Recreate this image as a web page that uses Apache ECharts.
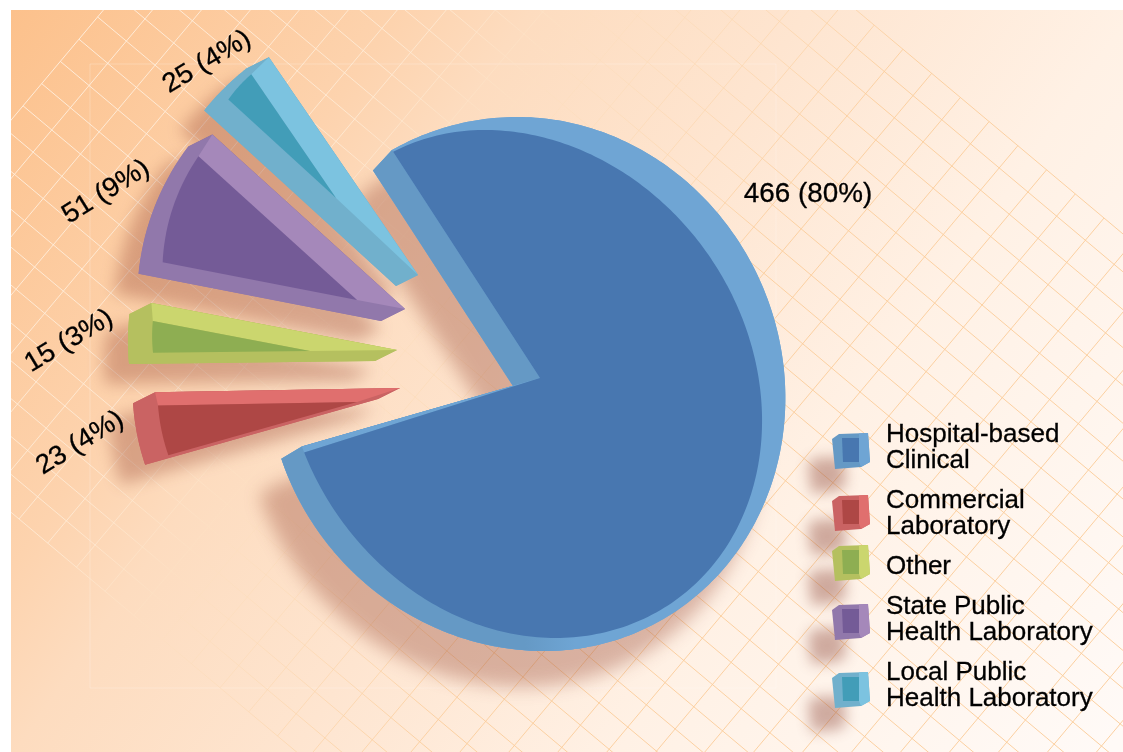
<!DOCTYPE html>
<html>
<head>
<meta charset="utf-8">
<title>Laboratory types</title>
<script src="https://cdn.jsdelivr.net/npm/echarts@6/dist/echarts.min.js"></script>
<style>
html, body { margin: 0; padding: 0; background: #fff; }
#main { width: 1123px; height: 752px; }
</style>
</head>
<body>
<div id="main"></div>
<script>
// data, in legend order
var sliceNames = ['Hospital-based Clinical', 'Commercial Laboratory', 'Other', 'State Public Health Laboratory', 'Local Public Health Laboratory'];
var sliceValues = [466, 23, 15, 51, 25];
var legendLabels = ['Hospital-based\nClinical', 'Commercial\nLaboratory', 'Other', 'State Public\nHealth Laboratory', 'Local Public\nHealth Laboratory'];

// [top wall, side wall, inner face]
var sliceColors = [
    ['#6fa5d4', '#6599c5', '#4877b0'],
    ['#e06f6e', '#ca6363', '#ae4745'],
    ['#cbd66e', '#b5c05f', '#8eae52'],
    ['#a588ba', '#9178ab', '#745b97'],
    ['#7cc3e0', '#71b0cc', '#429db8']
];

// where each exploded wedge sits in the drawing, not data
// nudge: perspective correction of the two edges, in degrees
var wedgeLayout = {
    1: {front: [378, 399], lift: [22, -11], r: [245, 242], back: [357, 402], backR: [199, 196], nudge: [1.5, 2], label: [80, 443, 32]},
    2: {front: [375, 361], lift: [22, -11], r: [250, 246], back: [310, 351], backR: [160, 157], nudge: [-1, 1.2], label: [69, 341, 31]},
    3: {front: [381, 321], lift: [24, -12], r: [260, 247], back: [357, 300], backR: [214, 198], nudge: [-0.7, -1.2], label: [106, 192, 32]},
    4: {front: [396, 286], lift: [22, -11], r: [264, 260], back: [336, 198], backR: [150, 146], nudge: [1.4, -1], label: [207, 62, 31]}
};
var pieStart = 33; // degrees counter clockwise from north
var swatchTops = [433, 495, 545, 604, 672];

var total = sliceValues.reduce(function (a, b) { return a + b; }, 0);
// slices run counter clockwise from the local lab back round to the hospital one
var sliceAngles = {};
var cursor = pieStart;
for (var k = sliceValues.length - 1; k >= 0; k--) {
    var sweep = sliceValues[k] / total * 360;
    sliceAngles[k] = [cursor, cursor + sweep];
    cursor += sweep;
}

function dir(deg) {
    var a = deg * Math.PI / 180;
    return [-Math.sin(a), -Math.cos(a)];
}
function along(p, r, deg) {
    var u = dir(deg);
    return [p[0] + u[0] * r, p[1] + u[1] * r];
}
function add(p, d) {
    return [p[0] + d[0], p[1] + d[1]];
}
function arc(p, r1, r2, a1, a2) {
    var pts = [];
    for (var i = 0; i <= 18; i++) {
        var t = i / 18;
        pts.push(along(p, r1 + (r2 - r1) * t, a1 + (a2 - a1) * t));
    }
    return pts;
}
// the big slice is a sheared oval seen from the side: find where a ray from the apex leaves it
var faceOval = {cx: 520, cy: 384, rxL: 234, rxR: 239.5, ry: 254, k: 0.138};
var rimOval = {cx: 531, cy: 384, rxL: 264, rxR: 254, ry: 267, k: 0.05};
function insideOval(o, p) {
    var dy = p[1] - o.cy;
    var dx = p[0] - o.cx - o.k * dy;
    var nx = dx / (dx < 0 ? o.rxL : o.rxR);
    var ny = dy / o.ry;
    return nx * nx + ny * ny <= 1;
}
function rayHit(o, from, deg) {
    var lo = 0, hi = 420;
    for (var n = 0; n < 24; n++) {
        var mid = (lo + hi) / 2;
        if (insideOval(o, along(from, mid, deg))) lo = mid; else hi = mid;
    }
    return along(from, lo, deg);
}
function ovalArc(o, from, a1, a2) {
    var pts = [];
    var steps = Math.ceil(Math.abs(a2 - a1));
    for (var i = 0; i <= steps; i++) {
        pts.push(rayHit(o, from, a1 + (a2 - a1) * i / steps));
    }
    return pts;
}
function poly(points, fill, extra) {
    var style = {fill: fill};
    for (var key in extra) style[key] = extra[key];
    return {type: 'polygon', shape: {points: points}, style: style};
}
function labelText(idx, x, y, rot) {
    var pct = Math.round(sliceValues[idx] / total * 100);
    return {
        type: 'text', x: x, y: y, rotation: rot * Math.PI / 180, scaleX: 1.03,
        style: {
            text: sliceValues[idx] + ' (' + pct + '%)',
            font: '27px "Liberation Sans"', fill: '#000', stroke: '#000', lineWidth: 0.3,
            textAlign: 'center', textVerticalAlign: 'middle'
        }
    };
}

function wedgeShapes(idx, onlyShadow) {
    var w = wedgeLayout[idx];
    var c = sliceColors[idx];
    var a1 = sliceAngles[idx][0] + w.nudge[0];
    var a2 = sliceAngles[idx][1] + w.nudge[1];
    var top = add(w.front, w.lift);
    var outer = arc(w.front, w.r[0], w.r[1], a1, a2);
    var inner = arc(w.back, w.backR[0], w.backR[1], a1, a2);
    var corner = add(outer[0], w.lift);
    var silhouette = [top, corner].concat(outer).concat([w.front]);
    if (onlyShadow) {
        return [poly(silhouette, c[1], {shadowBlur: 16, shadowColor: 'rgba(150,70,50,0.36)', shadowOffsetX: -24, shadowOffsetY: 20})];
    }
    return [
        poly(silhouette, c[1]),
        poly([top, corner, inner[0], w.back], c[0]),
        poly([w.back].concat(inner), c[2]),
        labelText(idx, w.label[0], w.label[1], w.label[2])
    ];
}

function mainShapes(onlyShadow) {
    var c = sliceColors[0];
    var a1 = sliceAngles[0][0] + 2.3; // same perspective correction as the wedges
    var a2 = sliceAngles[0][1];
    var apex = [540, 378];
    var notch = [513, 386];
    var ring = ovalArc(rimOval, apex, a1 + 1.3, a2);
    var capTop = along(notch, 257, a2);
    var faceLow = rayHit(faceOval, apex, a1);
    var silhouette = [apex, faceLow].concat(ring).concat([capTop, notch]);
    if (onlyShadow) {
        return [poly(silhouette, c[0], {shadowBlur: 18, shadowColor: 'rgba(150,70,50,0.36)', shadowOffsetX: -22, shadowOffsetY: 36})];
    }
    var lowerRim = {
        type: 'linear', x: 525, y: 0, x2: 575, y2: 0, global: true,
        colorStops: [{offset: 0, color: c[1]}, {offset: 1, color: c[0]}]
    };
    return [
        poly(silhouette, c[0]),
        poly([apex, faceLow].concat(ovalArc(rimOval, apex, a1 + 1.3, 190)), lowerRim),
        poly([notch, capTop, ring[ring.length - 1], apex], c[1]),
        poly([apex, faceLow, rayHit(faceOval, apex, a1 + 1.5)], c[0]),
        poly([apex].concat(ovalArc(faceOval, apex, a1 + 1.5, a2)), c[2]),
        labelText(0, 808, 195, 0)
    ];
}

function renderSlice(onlyShadow) {
    return function (params, api) {
        var idx = api.value(1);
        return {type: 'group', children: idx === 0 ? mainShapes(onlyShadow) : wedgeShapes(idx, onlyShadow)};
    };
}

var series = [];
sliceNames.forEach(function (name, i) {
    [true, false].forEach(function (onlyShadow) {
        series.push({
            type: 'custom',
            name: name,
            coordinateSystem: 'none',
            silent: true,
            z: onlyShadow ? 2 : 3,
            itemStyle: {color: sliceColors[i][1]},
            data: [[sliceValues[i], i]],
            renderItem: renderSlice(onlyShadow)
        });
    });
});

// background: gradient, faint frame and the diagonal lattice
var elements = [{
    type: 'rect', z: -5, silent: true,
    shape: {x: 0, y: 0, width: 1123, height: 752},
    style: {fill: {
        type: 'linear', x: 0, y: 0, x2: 1099, y2: 764, global: true,
        colorStops: [
            {offset: 0, color: '#fcc08a'}, {offset: 0.25, color: '#fdd3ae'}, {offset: 0.33, color: '#fddcbf'},
            {offset: 0.5, color: '#fee5d0'}, {offset: 0.7, color: '#fff1e5'}, {offset: 1, color: '#fffaf7'}
        ]
    }}
}, {
    type: 'rect', z: -4, silent: true,
    shape: {x: 90, y: 64, width: 686, height: 624},
    style: {fill: 'none', stroke: 'rgba(255,255,255,0.22)', lineWidth: 1}
}];
var latticeStroke = {
    type: 'linear', x: 0, y: 0, x2: 984, y2: 684, global: true,
    colorStops: [
        {offset: 0, color: 'rgba(255,240,225,0.95)'}, {offset: 0.3, color: 'rgba(255,236,215,0.8)'},
        {offset: 0.42, color: 'rgba(252,222,190,0.45)'}, {offset: 0.65, color: 'rgba(251,205,155,0.9)'},
        {offset: 1, color: 'rgba(251,205,155,0.95)'}
    ]
};
var ax = 0.766, ay = 0.643, bx = 0.643, by = -0.766;
function lat(i, j) {
    return [107.7 + i * 37.5 * ax + j * 29 * bx, 63.3 + i * 37.5 * ay + j * 29 * by];
}
function latticeLine(p, q) {
    elements.push({
        type: 'line', z: -3, silent: true,
        shape: {x1: p[0], y1: p[1], x2: q[0], y2: q[1]},
        style: {stroke: latticeStroke, lineWidth: 1}
    });
}
for (var j = -14; j <= 18; j++) latticeLine(lat(-1, j), lat(40, j));
for (var i = -1; i <= 40; i++) latticeLine(lat(i, -14), lat(i, 18));
// white margin of the page
elements.push({type: 'rect', z: -2, silent: true, shape: {x: 0, y: 0, width: 11, height: 752}, style: {fill: '#fff'}});
elements.push({type: 'rect', z: -2, silent: true, shape: {x: 0, y: 0, width: 1123, height: 10}, style: {fill: '#fff'}});

// small cube keys beside the legend text
swatchTops.forEach(function (y, i) {
    var c = sliceColors[i];
    var shift = function (pts) {
        return pts.map(function (p) { return [832 + p[0], y + p[1]]; });
    };
    var outline = shift([[0, 6], [7, 1], [36, 0], [38, 29], [29, 34], [3, 36]]);
    elements.push({
        type: 'polygon', z: 5, silent: true, shape: {points: outline},
        style: {fill: c[1], shadowBlur: 14, shadowColor: 'rgba(140,70,55,0.42)', shadowOffsetX: -24, shadowOffsetY: 24}
    });
    elements.push({type: 'polygon', z: 6, silent: true, shape: {points: shift([[27, 0.5], [36, 0], [38, 29], [29, 34], [27, 29]])}, style: {fill: c[0]}});
    elements.push({type: 'polygon', z: 6, silent: true, shape: {points: shift([[10, 5], [27, 5], [27, 29], [11, 29]])}, style: {fill: c[2]}});
});

var myChart = echarts.init(document.getElementById('main'));
var option = {
    animation: false,
    backgroundColor: '#fff',
    graphic: {elements: elements},
    legend: {
        left: 880,
        top: 422,
        orient: 'vertical',
        padding: 0,
        itemGap: 13.5,
        itemWidth: 1,
        itemHeight: 1,
        selectedMode: false,
        itemStyle: {opacity: 0},
        data: sliceNames,
        formatter: function (name) {
            return legendLabels[sliceNames.indexOf(name)];
        },
        textStyle: {fontFamily: 'Liberation Sans', fontSize: 26, lineHeight: 26, color: '#000', textBorderColor: '#000', textBorderWidth: 0.3}
    },
    series: series
};
myChart.setOption(option);
</script>
</body>
</html>
